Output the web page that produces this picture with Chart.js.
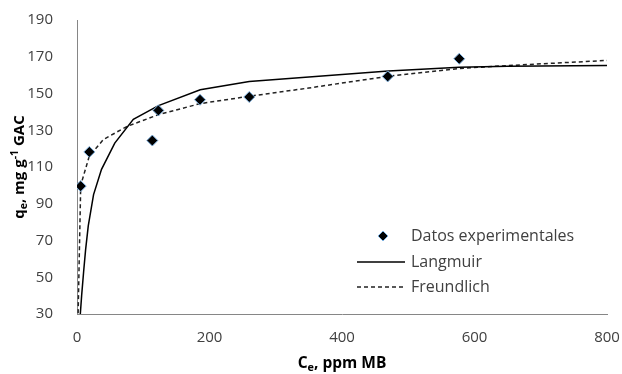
<!DOCTYPE html>
<html>
<head>
<meta charset="utf-8">
<script src="https://cdn.jsdelivr.net/npm/chart.js@4/dist/chart.umd.min.js"></script>
<style>
  html, body { margin: 0; padding: 0; background: #fff; }
  #wrap { width: 622px; height: 374px; }
</style>
</head>
<body>
<div id="wrap"><canvas id="myChart" width="622" height="374"></canvas></div>
<script>
// experimental points
const expCe = [5.6, 18.6, 113.7, 122.8, 185.7, 260, 469, 577];
const expQe = [99.6, 118.2, 124.4, 140.8, 146.6, 148.1, 159.3, 168.9];

// Langmuir curve
const langCe = [5, 7, 10, 13, 17, 25, 37, 57, 85, 123, 186, 260, 470, 577, 650, 800];
const langQe = [30, 40, 53, 65, 78, 95, 108.7, 123, 136, 143.4, 152, 156.5, 162.3, 164.3, 164.8, 165.2];

// Freundlich curve
const freuCe = [0, 5.6, 18.6, 40, 75, 123, 186, 260, 350, 470, 577, 650, 800];
const freuQe = [0, 100, 116, 125, 132, 138.5, 144.5, 148.5, 153, 159.4, 163.6, 165.2, 168];

const xTicks = [0, 200, 400, 600, 800];
const yTicks = [30, 50, 70, 90, 110, 130, 150, 170, 190];

const legendLabels = ["Datos experimentales", "Langmuir", "Freundlich"];

const toXY = (xs, ys) => xs.map((x, i) => ({ x: x, y: ys[i] }));

const textColor = "#404040";
const axisColor = "#868686";
const font = "'Open Sans', sans-serif";

// axis titles with sub/superscripts, drawn by hand
function drawRich(ctx, parts, x, y, size) {
  // parts: [text, kind] kind: n / sub / sup
  let total = 0;
  parts.forEach(p => {
    const s = p[1] === "n" ? size : size * 0.7;
    ctx.font = "bold " + s + "px " + font;
    total += ctx.measureText(p[0]).width;
  });
  let cx = x - total / 2;
  parts.forEach(p => {
    const s = p[1] === "n" ? size : size * 0.7;
    ctx.font = "bold " + s + "px " + font;
    let dy = 0;
    if (p[1] === "sub") dy = size * 0.25;
    if (p[1] === "sup") dy = -size * 0.35;
    ctx.fillText(p[0], cx, y + dy);
    cx += ctx.measureText(p[0]).width;
  });
}

const titlesPlugin = {
  id: "titles",
  afterDraw(chart) {
    const ctx = chart.ctx;
    const a = chart.chartArea;
    ctx.save();
    ctx.fillStyle = "#000";
    ctx.textBaseline = "middle";
    ctx.textAlign = "left";
    drawRich(ctx, [["C", "n"], ["e", "sub"], [", ppm MB", "n"]], (a.left + a.right) / 2, 364, 15.5);
    ctx.translate(20, (a.top + a.bottom) / 2);
    ctx.rotate(-Math.PI / 2);
    drawRich(ctx, [["q", "n"], ["e", "sub"], [", mg g", "n"], ["-1", "sup"], [" GAC", "n"]], 0, 0, 15);
    ctx.restore();
  },
};

const legendPlugin = {
  id: "boxLegend",
  afterDraw(chart) {
    const ctx = chart.ctx;
    const ds = chart.data.datasets;
    const rows = [236, 262, 287];
    const textX = 411;
    ctx.save();
    ctx.font = "16px " + font;
    ctx.fillStyle = textColor;
    ctx.textBaseline = "middle";
    ctx.textAlign = "left";
    legendLabels.forEach((label, i) => {
      const d = ds[i];
      const y = rows[i];
      if (i === 0) {
        ctx.fillStyle = d.backgroundColor;
        ctx.strokeStyle = d.borderColor;
        ctx.lineWidth = 1;
        Chart.helpers.drawPoint(ctx, { pointStyle: "rectRot", radius: 5, borderWidth: 1 }, 383, y);
      } else {
        ctx.beginPath();
        ctx.strokeStyle = d.borderColor;
        ctx.lineWidth = d.borderWidth;
        ctx.setLineDash(d.borderDash || []);
        ctx.moveTo(357, y);
        ctx.lineTo(405, y);
        ctx.stroke();
        ctx.setLineDash([]);
      }
      ctx.fillStyle = textColor;
      ctx.fillText(label, textX, y);
    });
    ctx.restore();
  },
};

const ctx = document.getElementById("myChart").getContext("2d");
const myChart = new Chart(ctx, {
  type: "scatter",
  data: {
    datasets: [
      {
        label: legendLabels[0],
        data: toXY(expCe, expQe),
        pointStyle: "rectRot",
        pointRadius: 5.5,
        backgroundColor: "#000000",
        borderColor: "#7eb1e0",
        borderWidth: 1,
        showLine: false,
      },
      {
        label: legendLabels[1],
        data: toXY(langCe, langQe),
        showLine: true,
        pointRadius: 0,
        borderColor: "#000000",
        borderWidth: 1.5,
        tension: 0,
      },
      {
        label: legendLabels[2],
        data: toXY(freuCe, freuQe),
        showLine: true,
        pointRadius: 0,
        borderColor: "#222222",
        borderWidth: 1.5,
        borderDash: [4, 3],
        tension: 0,
      },
    ],
  },
  options: {
    responsive: false,
    animation: false,
    layout: {
      padding: 0,
    },
    scales: {
      x: {
        type: "linear",
        min: 0,
        max: 800,
        afterBuildTicks: (scale) => {
          scale.ticks = xTicks.map((v) => ({ value: v }));
        },
        afterFit: (scale) => {
          scale.height = 60;
          // pin the plot area edges
          scale.paddingLeft = 0;
          scale.paddingRight = 15;
        },
        grid: { display: false },
        border: { display: true, color: axisColor, width: 1 },
        ticks: {
          color: textColor,
          padding: 7,
          maxRotation: 0,
          font: { family: font, size: 15 },
        },
      },
      y: {
        type: "linear",
        min: 30,
        max: 190,
        afterBuildTicks: (scale) => {
          scale.ticks = yTicks.map((v) => ({ value: v }));
        },
        afterFit: (scale) => {
          scale.width = 77;
          scale.paddingTop = 20;
          scale.paddingBottom = 0;
        },
        grid: { display: false },
        border: { display: true, color: axisColor, width: 1 },
        ticks: {
          color: textColor,
          padding: 16,
          font: { family: font, size: 15 },
        },
      },
    },
    plugins: {
      legend: { display: false },
      tooltip: { enabled: false },
    },
  },
  plugins: [titlesPlugin, legendPlugin],
});
</script>
</body>
</html>
